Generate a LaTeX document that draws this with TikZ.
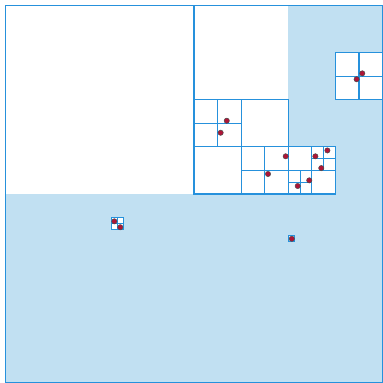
\documentclass[tikz,border=0pt]{standalone}
\usepackage{xcolor}
\definecolor{qline}{RGB}{38,145,220}
\definecolor{qfill}{RGB}{193,224,242}
\definecolor{qpt}{RGB}{175,20,55}

\begin{document}
\begin{tikzpicture}[x=1cm,y=-1cm,
  cell/.style={draw=qline,line width=1.3pt},
  pt/.style={fill=qpt,draw=black!70,line width=0.6pt}]
\useasboundingbox (-0.233,-0.233) rectangle (16.02,15.995);
% shaded cells
\fill[qfill] (0,8) rectangle (16,16);
\fill[qfill] (12,0) rectangle (16,8);
\fill[white] (12,6) rectangle (14,8);
\fill[white] (14,2) rectangle (16,4);
\fill[white] (4.5,9) rectangle (5,9.5);
\fill[white] (12,9.75) rectangle (12.25,10);
% subdivisions
\draw[cell] (8,0) -- (8,8) -- (14,8);
\draw[cell] (8,4) rectangle (12,8) (10,4) -- (10,8) (8,6) -- (12,6);
\draw[cell] (9,4) -- (9,6) (8,5) -- (10,5);
\draw[cell] (11,6) -- (11,8) (10,7) -- (12,7);
\draw[cell] (12,6) rectangle (14,8) (13,6) -- (13,8) (12,7) -- (14,7);
\draw[cell] (13.5,6) -- (13.5,7) (13,6.5) -- (14,6.5);
\draw[cell] (12.5,7) -- (12.5,8) (12,7.5) -- (13,7.5);
\draw[cell] (14,2) rectangle (16,4) (15,2) -- (15,4) (14,3) -- (16,3);
\draw[cell] (4.5,9) rectangle (5,9.5) (4.75,9) -- (4.75,9.5) (4.5,9.25) -- (5,9.25);
\draw[cell] (12,9.75) rectangle (12.25,10);
% points
\foreach \px/\py in {9.39/4.89, 9.13/5.40, 11.89/6.40, 11.14/7.15, 13.15/6.40, 13.66/6.15, 13.40/6.90, 12.89/7.42, 12.40/7.66, 15.14/2.88, 14.90/3.13, 4.62/9.16, 4.87/9.41, 12.15/9.90}
  \filldraw[pt] (\px,\py) circle (3.2pt);
\draw[cell] (0,0) rectangle (16,16);
\end{tikzpicture}
\end{document}
